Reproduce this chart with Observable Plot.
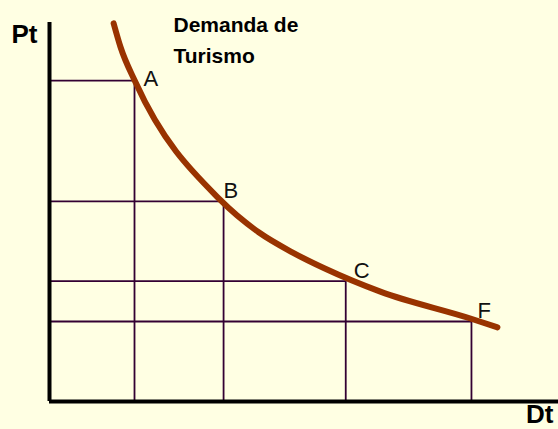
<!DOCTYPE html>
<html>
<head>
<meta charset="utf-8">
<script src="https://cdn.jsdelivr.net/npm/d3@7"></script>
<script src="https://cdn.jsdelivr.net/npm/@observablehq/plot@0.6"></script>
<style>
  html, body { margin: 0; padding: 0; background: #FFFFE3; }
  #chart svg { display: block; }
</style>
</head>
<body>
<div id="chart"></div>
<script>
// Points on the demand curve (grid corners)
const pointLabels = ["A", "B", "C", "F"];
const pointDt = [16.7, 34.2, 58.2, 82.9];
const pointPt = [80.0, 49.9, 30.0, 19.95];

// Demand curve trace
const curveDt = [12.6, 13.95, 16.9, 33.6, 41.1, 47.7, 54.2, 65.0, 82.7, 88.0];
const curvePt = [94.3, 88.4, 79.6, 50.2, 42.2, 37.2, 33.1, 27.4, 20.7, 18.5];

// Axis extents and texts
const yAxisTop = 94.5;
const titleText = "Demanda de\nTurismo";
const yLabel = "Pt";
const xLabel = "Dt";

const points = pointLabels.map((l, i) => ({label: l, Dt: pointDt[i], Pt: pointPt[i]}));
const curve = curveDt.map((d, i) => ({Dt: d, Pt: curvePt[i]}));

const font = "'Liberation Sans', Arial, sans-serif";
const gridColor = "#330033";
const labelStyle = {x: "Dt", y: "Pt", text: "label", textAnchor: "start", lineAnchor: "bottom", fontSize: 22, fill: "#111"};

const chart = Plot.plot({
  width: 558,
  height: 429,
  marginLeft: 49,
  marginRight: 0,
  marginTop: 0,
  marginBottom: 28,
  x: {domain: [0, 100], axis: null},
  y: {domain: [0, 100], axis: null},
  style: {background: "#FFFFE3", fontFamily: font},
  marks: [
    Plot.ruleY(points, {y: "Pt", x1: 0, x2: "Dt", stroke: gridColor, strokeWidth: 1.8}),
    Plot.ruleX(points, {x: "Dt", y1: 0, y2: "Pt", stroke: gridColor, strokeWidth: 1.8}),
    Plot.ruleY([0], {stroke: "#000", strokeWidth: 4}),
    Plot.ruleX([0], {y1: 0, y2: yAxisTop, stroke: "#000", strokeWidth: 4}),
    Plot.line(curve, {x: "Dt", y: "Pt", curve: "monotone-x", stroke: "#993300", strokeWidth: 6, strokeLinecap: "round"}),
    Plot.text(points.filter(d => d.label === "A"), {...labelStyle, dx: 9, dy: 5}),
    Plot.text(points.filter(d => d.label === "B"), {...labelStyle, dx: 0, dy: -3}),
    Plot.text(points.filter(d => d.label === "C"), {...labelStyle, dx: 8, dy: -3}),
    Plot.text(points.filter(d => d.label === "F"), {...labelStyle, dx: 6, dy: -4}),
    Plot.text([titleText], {frameAnchor: "top-left", textAnchor: "start", lineAnchor: "top", dx: 124, dy: 10, fontSize: 21, fontWeight: "bold", lineHeight: 1.45, fill: "#000"}),
    Plot.text([yLabel], {frameAnchor: "top-left", textAnchor: "end", lineAnchor: "top", dx: -12, dy: 24, fontSize: 26, fontWeight: "bold", fill: "#000"}),
    Plot.text([xLabel], {frameAnchor: "bottom-right", textAnchor: "end", lineAnchor: "top", dx: -5, dy: 3, fontSize: 26, fontWeight: "bold", fill: "#000"})
  ]
});

document.getElementById("chart").appendChild(chart);
</script>
</body>
</html>
